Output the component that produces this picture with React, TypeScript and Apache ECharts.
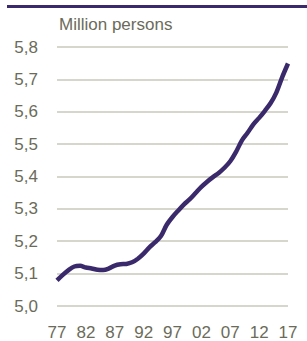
import React, { useEffect, useRef } from "react";
import * as echarts from "echarts";

const years: string[] = [
  "77", "78", "79", "80", "81", "82", "83", "84", "85", "86",
  "87", "88", "89", "90", "91", "92", "93", "94", "95", "96",
  "97", "98", "99", "00", "01", "02", "03", "04", "05", "06",
  "07", "08", "09", "10", "11", "12", "13", "14", "15", "16", "17",
];

const population: number[] = [
  5.079, 5.096, 5.111, 5.122, 5.124, 5.119, 5.116, 5.112, 5.111, 5.116,
  5.125, 5.129, 5.130, 5.135, 5.146, 5.162, 5.181, 5.197, 5.216, 5.251,
  5.275, 5.295, 5.314, 5.330, 5.349, 5.368, 5.384, 5.398, 5.411, 5.427,
  5.447, 5.476, 5.511, 5.535, 5.561, 5.581, 5.603, 5.627, 5.660, 5.707, 5.749,
];

const yMin = 5.0;
const yMax = 5.8;
const yStep = 0.1;
const titleText = "Million persons";

const FONT = "'Liberation Sans', Arial, sans-serif";
const TEXT_COLOR = "#6b6b5a";
const LINE_COLOR = "#3a2a6b";
const GRID_COLOR = "#c9c9bd";

export default function App() {
  const ref = useRef<HTMLDivElement>(null);
  useEffect(() => {
    if (!ref.current) return;
    const chart = echarts.init(ref.current, undefined, { renderer: "svg" });
    chart.setOption({
      animation: false,
      backgroundColor: "#ffffff",
      grid: { left: 57, right: 19, top: 47, bottom: 35, containLabel: false },
      graphic: [
        {
          type: "rect",
          left: 7,
          top: 5,
          shape: { width: 300, height: 3 },
          style: { fill: LINE_COLOR },
        },
        {
          type: "text",
          left: 59,
          top: 16,
          style: {
            text: titleText,
            fill: TEXT_COLOR,
            font: `17px ${FONT}`,
          },
        },
      ],
      xAxis: {
        type: "category",
        data: years,
        boundaryGap: false,
        axisLine: { show: false },
        axisTick: { show: false },
        axisLabel: {
          interval: 4,
          color: TEXT_COLOR,
          fontSize: 17,
          fontFamily: FONT,
          margin: 18,
        },
        splitLine: { show: false },
      },
      yAxis: {
        type: "value",
        min: yMin,
        max: yMax,
        interval: yStep,
        axisLine: { show: false },
        axisTick: { show: false },
        axisLabel: {
          color: TEXT_COLOR,
          fontSize: 17,
          fontFamily: FONT,
          margin: 19,
          formatter: (v: number) => v.toFixed(1).replace(".", ","),
        },
        splitLine: { lineStyle: { color: GRID_COLOR, width: 1.5 } },
      },
      series: [
        {
          type: "line",
          data: population,
          smooth: 0.3,
          symbol: "none",
          lineStyle: { color: LINE_COLOR, width: 4.5 },
        },
      ],
    });
    return () => chart.dispose();
  }, []);
  return (
    <div
      ref={ref}
      style={{ position: "fixed", left: 0, top: 0, width: 307, height: 341 }}
    />
  );
}
